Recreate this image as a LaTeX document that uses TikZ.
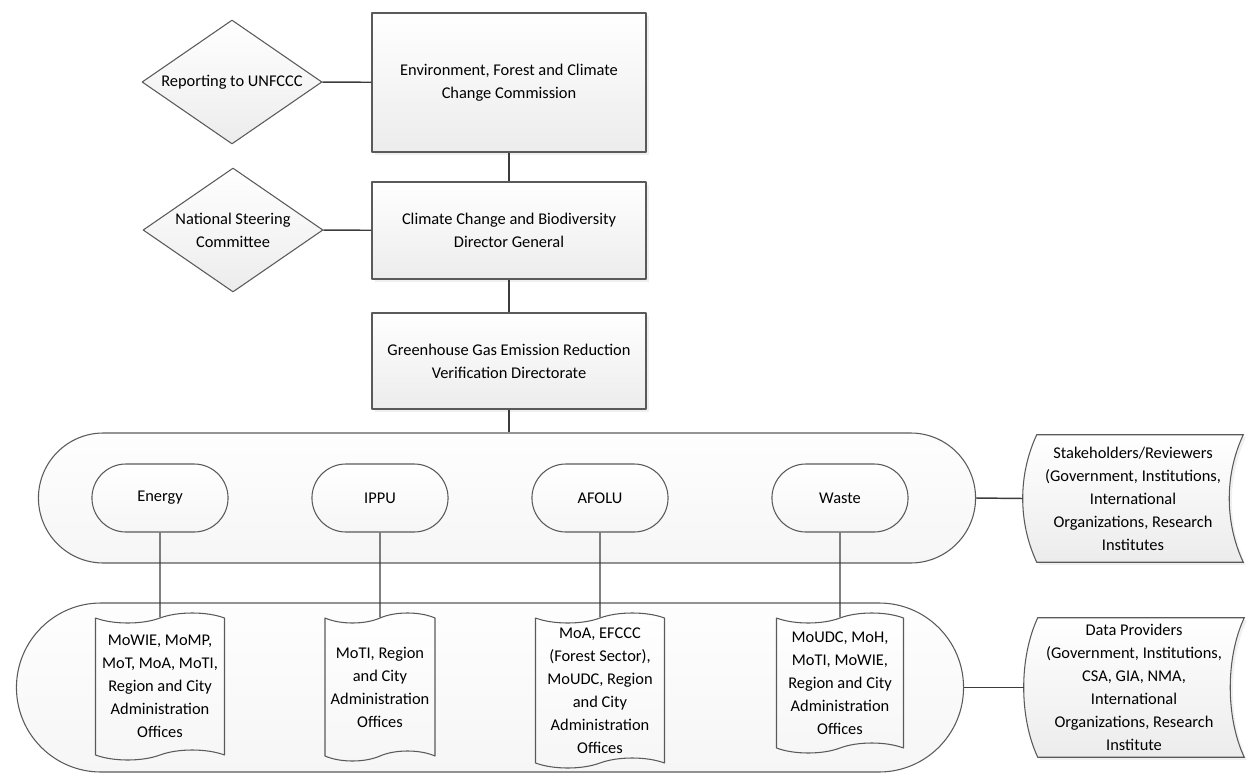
\documentclass[tikz,border=0pt]{standalone}
\usepackage{fontspec}
\setmainfont{Carlito}
\usetikzlibrary{shapes.geometric,shapes.misc,shapes.symbols,shadows,backgrounds}
\definecolor{edgegray}{HTML}{5A5A5A}
\definecolor{linegray}{HTML}{3C3C3C}
\definecolor{shadegray}{HTML}{ECECEC}
\def\px{0.75pt}

\begin{document}
\begin{tikzpicture}[x=0.75pt, y=-0.75pt, font=\fontsize{12.3}{17.25}\selectfont, line join=round,
    box/.style={draw=edgegray, line width=1.1pt, top color=white, bottom color=shadegray, align=center, minimum width=274*\px, drop shadow={opacity=.12, shadow xshift=2pt, shadow yshift=-2pt}},
    choice/.style={diamond, aspect=1.45, draw=edgegray, line width=.8pt, top color=white, bottom color=shadegray, align=center, inner sep=0pt, minimum width=180*\px, minimum height=124*\px},
    band/.style={rounded rectangle, draw=edgegray, line width=.8pt, top color=gray!1, bottom color=gray!7},
    pill/.style={rounded rectangle, draw=edgegray, line width=.8pt, top color=white, bottom color=gray!7, minimum width=145*\px, minimum height=68*\px},
    doc/.style={tape, draw=edgegray, line width=.8pt, top color=white, bottom color=gray!7, align=center, inner sep=1pt, tape bend height=7.5pt},
    store/.style={align=center, minimum width=220*\px, inner sep=1pt},
    conn/.style={linegray, line width=1.1pt}]
\useasboundingbox (0,0) rectangle (1254,778);

\node[box, minimum height=139*\px] (efccc) at (509,82.5) {Environment, Forest and Climate\\Change Commission};
\node[box, minimum height=97*\px] (ccbd) at (509,230.5) {Climate Change and Biodiversity\\Director General};
\node[box, minimum height=96*\px] (ghg) at (509,361) {Greenhouse Gas Emission Reduction\\Verification Directorate};
\node[choice] (unfccc) at (232,82) {Reporting to UNFCCC};
\node[choice] (nsc) at (233,230) {National Steering\\Committee};

\node[band, minimum width=946*\px, minimum height=130*\px] (sectors) at (507,498) {};
\node[band, minimum width=956*\px, minimum height=169*\px] (providers) at (490,687.5) {};

\foreach \n/\x/\lbl/\w/\h/\txt in {
    energy/160/Energy/129/147/{MoWIE, MoMP,\\MoT, MoA, MoTI,\\Region and City\\Administration\\Offices},
    ippu/380/IPPU/110/148/{MoTI, Region\\and City\\Administration\\Offices},
    afolu/600/AFOLU/129/155/{MoA, EFCCC\\(Forest Sector),\\MoUDC, Region\\and City\\Administration\\Offices},
    waste/840/Waste/127/140/{MoUDC, MoH,\\MoTI, MoWIE,\\Region and City\\Administration\\Offices}}
{
    \node[pill] (\n) at (\x,498) {\lbl};
    \node[doc, minimum width=\w*\px, minimum height=\h*\px] (\n-doc) at (\x,613+\h/2) {\txt};
    \draw[conn] (\n) -- (\n-doc);
}

\node[store, minimum height=127*\px] (stake) at (1133,498.5) {Stakeholders/Reviewers\\(Government, Institutions,\\International\\Organizations, Research\\Institutes};
\node[store, minimum height=139*\px] (data) at (1134,687.5) {Data Providers\\(Government, Institutions,\\CSA, GIA, NMA,\\International\\Organizations, Research\\Institute};

\begin{scope}[on background layer]
\foreach \s in {stake,data}
    \draw[draw=edgegray, line width=.8pt, top color=white, bottom color=shadegray, drop shadow={opacity=.12, shadow xshift=2pt, shadow yshift=-2pt}]
        ([shift={(14,0)}]\s.north west) -- (\s.north east)
        .. controls ([shift={(-18.7,40)}]\s.north east) and ([shift={(-18.7,-40)}]\s.south east) .. (\s.south east)
        -- ([shift={(14,0)}]\s.south west)
        .. controls ([shift={(-4.7,-40)}]\s.south west) and ([shift={(-4.7,40)}]\s.north west) .. ([shift={(14,0)}]\s.north west) -- cycle;
\end{scope}

\draw[conn] (unfccc) -- (efccc);
\draw[conn] (efccc) -- (ccbd);
\draw[conn] (nsc) -- (ccbd);
\draw[conn] (ccbd) -- (ghg);
\draw[conn] (ghg.south) -- (ghg.south |- sectors.north);
\draw[conn] (sectors.east) -- (stake.west);
\draw[conn] (providers.east) -- (data.west);
\end{tikzpicture}
\end{document}
